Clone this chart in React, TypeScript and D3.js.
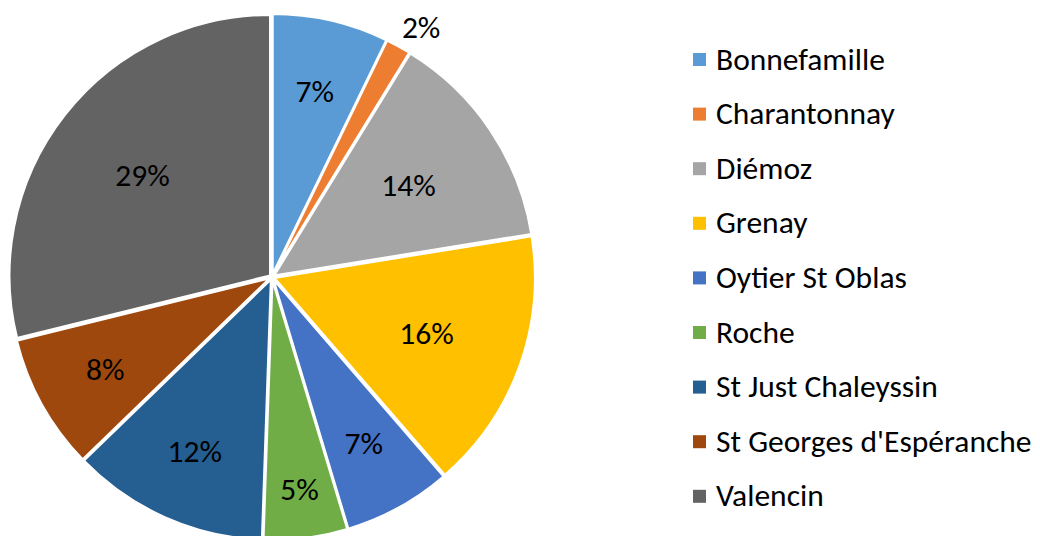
import React from "react";
import * as d3 from "d3";

const categories = [
  "Bonnefamille",
  "Charantonnay",
  "Diémoz",
  "Grenay",
  "Oytier St Oblas",
  "Roche",
  "St Just Chaleyssin",
  "St Georges d'Espéranche",
  "Valencin",
];
const values = [7.2, 1.55, 13.7, 16.2, 6.7, 5.2, 12.2, 8.4, 28.85];
const colors = [
  "#5B9BD5",
  "#ED7D31",
  "#A5A5A5",
  "#FFC000",
  "#4472C4",
  "#70AD47",
  "#255E91",
  "#9E480E",
  "#636363",
];

const W = 1040;
const H = 536;
const FONT = "Carlito, Calibri, 'Open Sans', sans-serif";

export default function App() {
  const cx = 272;
  const cy = 277;
  const r = 261;
  const explode = 2.2;
  const total = d3.sum(values);
  const pie = d3.pie<number>().sort(null).value((d) => d)(values);
  const arc = d3.arc<d3.PieArcDatum<number>>().innerRadius(0).outerRadius(r);
  const ringArc = (k: number) =>
    d3.arc<d3.PieArcDatum<number>>().innerRadius(r * k).outerRadius(r * k);
  // label ring chosen by slice size (wide slices closer to centre)
  const wideLabelArc = ringArc(0.63);
  const labelArc = ringArc(0.73);
  const narrowLabelArc = ringArc(0.82);
  const outerLabelArc = ringArc(1.06);

  const legendX = 693;
  const legendY0 = 53;
  const legendStep = d3
    .scalePoint<string>()
    .domain(categories)
    .range([legendY0, legendY0 + 8 * 54.6]);

  return (
    <svg
      width={W}
      height={H}
      style={{ position: "absolute", left: 0, top: 0 }}
      fontFamily={FONT}
    >
      <rect width={W} height={H} fill="#fff" />
      <g transform={`translate(${cx},${cy})`}>
        {pie.map((p, i) => {
          const mid = (p.startAngle + p.endAngle) / 2;
          const dx = Math.sin(mid) * explode;
          const dy = -Math.cos(mid) * explode;
          return (
            <path
              key={i}
              d={arc(p) || ""}
              transform={`translate(${dx},${dy})`}
              fill={colors[i]}
              stroke="#fff"
              strokeWidth={2.5}
              strokeLinejoin="round"
            />
          );
        })}
        {pie.map((p, i) => {
          const frac = p.value / total;
          const outside = frac < 0.03;
          const narrow = frac < 0.06;
          const wide = frac > 0.13;
          const [x, y] = outside
            ? outerLabelArc.centroid(p)
            : narrow
            ? narrowLabelArc.centroid(p)
            : wide
            ? wideLabelArc.centroid(p)
            : labelArc.centroid(p);
          return (
            <text
              key={"l" + i}
              x={outside ? x - 3 : x}
              y={outside ? y - 7 : y}
              dy="0.33em"
              textAnchor={outside ? "start" : "middle"}
              fontSize={31.5}
              fill="#000"
            >
              {d3.format(".0%")(frac)}
            </text>
          );
        })}
      </g>
      <g>
        {categories.map((c, i) => {
          const y = legendStep(c) as number;
          return (
            <g key={c}>
              <rect x={legendX} y={y} width={13} height={13} fill={colors[i]} />
              <text x={716} y={y + 16.5} fontSize={31.5} fill="#000">
                {c}
              </text>
            </g>
          );
        })}
      </g>
    </svg>
  );
}
